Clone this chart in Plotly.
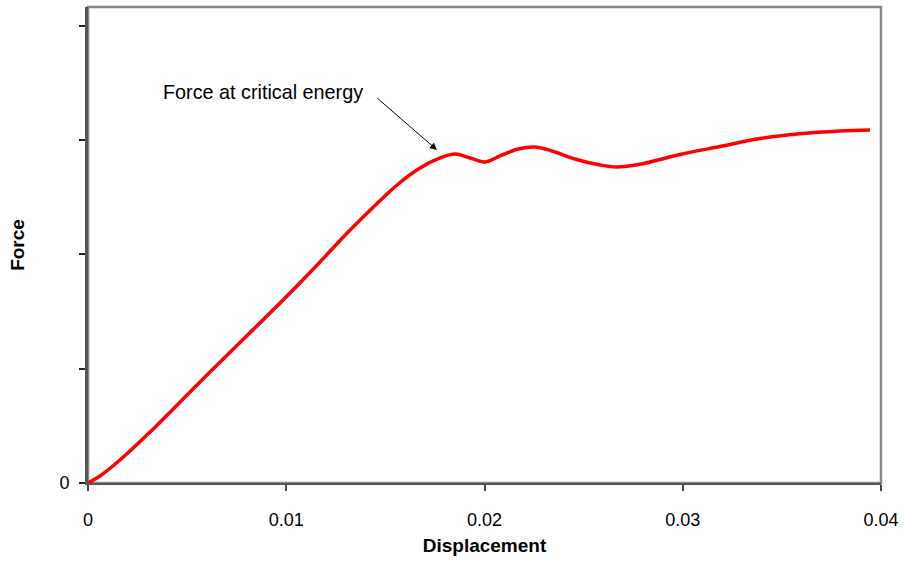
import plotly.graph_objects as go

displacement = [0.0, 0.000605, 0.00161, 0.00313, 0.00565, 0.00999, 0.0117, 0.01322, 0.01498,
                0.01574, 0.01675, 0.01776, 0.01851, 0.01927, 0.02003, 0.02078, 0.02169,
                0.02255, 0.0234, 0.02456, 0.02583, 0.02668, 0.02784, 0.02986, 0.03188,
                0.0339, 0.03592, 0.03793, 0.03945]
force = [0.0, 0.061, 0.201, 0.446, 0.884, 1.628, 1.934, 2.214, 2.512,
         2.630, 2.757, 2.845, 2.880, 2.845, 2.810, 2.862, 2.923,
         2.941, 2.906, 2.836, 2.783, 2.766, 2.790, 2.875, 2.945,
         3.015, 3.057, 3.081, 3.09]

x_ticks = [0, 0.01, 0.02, 0.03, 0.04]
x_ticktext = ["0", "0.01", "0.02", "0.03", "0.04"]
y_ticks = [0, 1, 2, 3, 4]
y_ticktext = ["0", "", "", "", ""]

annot_text = "Force at critical energy"
annot_point = (0.0176, 2.915)

FONT = "Liberation Sans, Arial, sans-serif"

fig = go.Figure()
fig.add_trace(go.Scatter(x=displacement, y=force, mode="lines",
                         line=dict(color="#ff0000", width=3.5, shape="spline", smoothing=1.0),
                         showlegend=False, hoverinfo="skip"))

fig.update_layout(
    width=906, height=561,
    margin=dict(l=88, r=25, t=7, b=78),
    paper_bgcolor="white", plot_bgcolor="white",
    font=dict(family=FONT, size=18, color="black"),
    xaxis=dict(range=[0, 0.04], tickvals=x_ticks, ticktext=x_ticktext,
               ticks="outside", ticklen=6, tickcolor="#444", tickwidth=1.5,
               showline=True, linecolor="#555", linewidth=2, showgrid=False, zeroline=False,
               ticklabelstandoff=13,
               title=dict(text="<b>Displacement</b>", font=dict(size=19), standoff=10)),
    yaxis=dict(range=[0, 4.166], tickvals=y_ticks, ticktext=y_ticktext,
               ticks="outside", ticklen=6, tickcolor="#222", tickwidth=1.5,
               showline=True, linecolor="#555", linewidth=3, showgrid=False, zeroline=False,
               ticklabelstandoff=6,
               title=dict(text="<b>Force</b>", font=dict(size=19), standoff=30)),
    shapes=[dict(type="rect", xref="paper", yref="paper", x0=0, y0=0, x1=1, y1=1,
                 line=dict(color="#888", width=2.5), layer="below")],
    annotations=[
        dict(x=annot_point[0], y=annot_point[1], xref="x", yref="y", text="",
             showarrow=True, arrowhead=2, arrowsize=1.4, arrowwidth=1, arrowcolor="black",
             ax=-61, ay=-53, standoff=0),
        dict(x=annot_point[0], y=annot_point[1], xref="x", yref="y", text=annot_text,
             showarrow=False, xanchor="left", yanchor="middle",
             xshift=161 - 437, yshift=150 - 92, font=dict(size=19.8)),
    ],
)

fig.write_html("out.html", config={"displayModeBar": False},
               post_script="document.body.style.margin='0';document.body.style.padding='0';")
